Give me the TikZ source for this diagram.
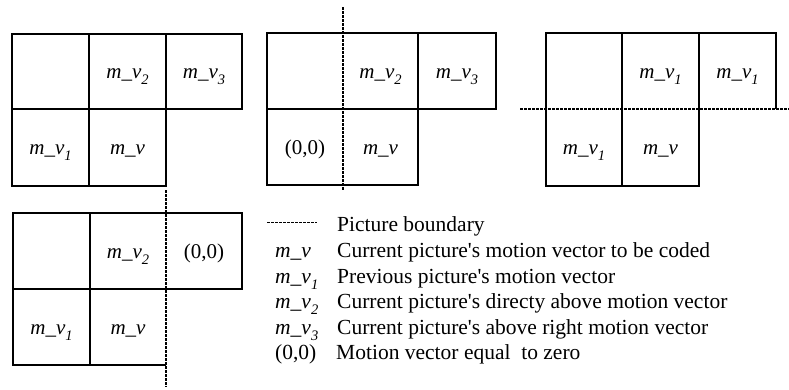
\documentclass[tikz,border=0pt]{standalone}
\usepackage{fontspec}
\setmainfont{Liberation Serif}
\newcommand\mvlab[1]{\textit{m\_v}\raisebox{-0.3em}{\fontsize{14.5}{14.5}\selectfont\textit{#1}}}
\newcommand\apo{\textquotesingle}
\begin{document}
\begin{tikzpicture}[x=1pt,y=-1pt,
  cell/.style={line width=1.3pt},
  bound/.style={line width=1.1pt, dash pattern=on 2.5pt off 1.5pt},
  lab/.style={anchor=base, inner sep=0pt, font=\fontsize{21}{24}\selectfont},
  leg/.style={anchor=base west, inner sep=0pt, font=\fontsize{21.5}{24}\selectfont}]
\useasboundingbox (0,0) rectangle (789,389);
% Panel 1
\draw[cell] (12,34) rectangle (242,109);
\draw[cell] (12,109) -- (12,186) -- (166,186) -- (166,109);
\draw[cell] (89,34) -- (89,186);
\draw[cell] (166,34) -- (166,109);
\node[lab] (p1b) at (127.5,78.5) {\mvlab{2}};
\node[lab] (p1c) at (204,78.5) {\mvlab{3}};
\node[lab] (p1d) at (50.5,154.5) {\mvlab{1}};
\node[lab] (p1e) at (127.5,154.5) {\textit{m\_v}};
% Panel 2
\draw[cell] (267,33) -- (496,33) -- (496,109) -- (418,109) -- (418,185) -- (267,185) -- cycle;
\draw[cell] (267,109) -- (496,109);
\draw[cell] (418,33) -- (418,109);
\draw[bound] (343,7) -- (343,190);
\node[lab] (p2b) at (380.5,78) {\mvlab{2}};
\node[lab] (p2c) at (457,78) {\mvlab{3}};
\node[lab] (p2d) at (305,154) {(0,0)};
\node[lab] (p2e) at (380.5,154) {\textit{m\_v}};
% Panel 3
\draw[cell] (546,109) -- (546,33) -- (776,33) -- (776,109);
\draw[cell] (546,109) -- (546,186) -- (699,186) -- (699,33);
\draw[cell] (622,33) -- (622,186);
\draw[bound] (520,109) -- (789,109);
\node[lab] (p3b) at (660.5,78) {\mvlab{1}};
\node[lab] (p3c) at (737.5,78) {\mvlab{1}};
\node[lab] (p3d) at (584,154.5) {\mvlab{1}};
\node[lab] (p3e) at (660.5,154.5) {\textit{m\_v}};
% Panel 4
\draw[cell] (13,213) rectangle (242,289);
\draw[cell] (13,289) -- (13,365) -- (166,365);
\draw[cell] (90,213) -- (90,365);
\draw[bound] (166,190) -- (166,387);
\node[lab] (p4b) at (128,258) {\mvlab{2}};
\node[lab] (p4c) at (204,258) {(0,0)};
\node[lab] (p4d) at (51.5,334) {\mvlab{1}};
\node[lab] (p4e) at (128,334) {\textit{m\_v}};
% Legend
\coordinate (la) at (267,222);
\coordinate (lb) at (317,222);
\draw[bound, line width=0.8pt] (la) -- (lb);
\node[leg] (t1) at (337,231.5) {Picture boundary};
\node[leg] (k2) at (275,257.5) {\textit{m\_v}};
\node[leg] (t2) at (337,257.5) {Current picture\apo s motion vector to be coded};
\node[leg] (k3) at (275,283) {\mvlab{1}};
\node[leg] (t3) at (337,283) {Previous picture\apo s motion vector};
\node[leg] (k4) at (275,308.5) {\mvlab{2}};
\node[leg] (t4) at (337,308.5) {Current picture\apo s directy above motion vector};
\node[leg] (k5) at (275,334) {\mvlab{3}};
\node[leg] (t5) at (337,334) {Current picture\apo s above right motion vector};
\node[leg] (k6) at (275,359.5) {(0,0)};
\node[leg] (t6) at (336,359.5) {Motion vector equal\ \ to zero};
\end{tikzpicture}
\end{document}
